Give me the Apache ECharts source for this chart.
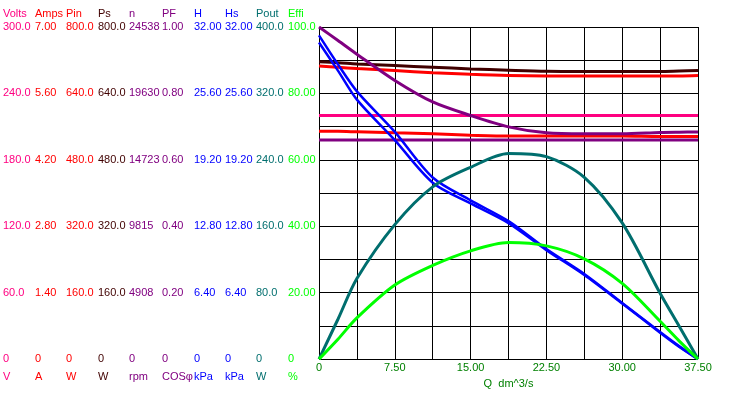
<!DOCTYPE html>
<html>
<head>
<meta charset="utf-8">
<script src="https://cdn.jsdelivr.net/npm/echarts@6/dist/echarts.min.js"></script>
<style>
html,body{margin:0;padding:0;background:#fff;}
#chart{width:730px;height:394px;}
</style>
</head>
<body>
<div id="chart"></div>
<script>
// ---- data ----
const flow = [0, 1.875, 3.75, 7.5, 11.25, 15, 18.75, 22.5, 26.25, 30, 33.75, 35.625, 37.5];
const volts = [220, 220, 220, 220, 220, 220, 220, 220, 220, 220, 220, 220, 220];
const amps = [4.80, 4.80, 4.79, 4.77, 4.75, 4.72, 4.70, 4.70, 4.70, 4.70, 4.69, 4.69, 4.69];
const pin = [706, 703, 700, 695, 690, 686, 683, 682, 682, 682, 682, 682, 683];
const ps = [716, 714, 711, 707, 703, 699, 696, 693.5, 693, 693, 693, 694, 695];
const speed = [24538, 23540, 22530, 20590, 19000, 18000, 17160, 16720, 16650, 16650, 16750, 16770, 16780];
const pf = [0.66, 0.66, 0.66, 0.66, 0.66, 0.66, 0.66, 0.66, 0.66, 0.66, 0.66, 0.66, 0.66];
const head = [31.2, 28.4, 25.8, 21.9, 17.5, 15.3, 13.3, 10.6, 8.2, 5.4, 2.6, 1.25, 0];
const headS = [30.5, 27.8, 25.0, 21.1, 17.0, 15.0, 13.1, 10.5, 8.1, 5.35, 2.55, 1.2, 0];
const pout = [0, 48, 97, 162, 207.5, 231, 247.7, 243.8, 219, 164, 79.3, 39.8, 0];
const effi = [0, 6.0, 12.4, 22.3, 28.2, 32.6, 35.1, 34.1, 30.2, 22.8, 11.4, 5.5, 0];

const axisNames = ['Volts', 'Amps', 'Pin', 'Ps', 'n', 'PF', 'H', 'Hs', 'Pout', 'Effi'];
const axisUnits = ['V', 'A', 'W', 'W', 'rpm', 'COSφ', 'kPa', 'kPa', 'W', '%'];
const axisMax = [300, 7, 800, 800, 24538, 1, 32, 32, 400, 100];
const axisDecimals = [1, 2, 1, 1, 0, 2, 2, 2, 1, 2];
const xMax = 37.5;
const xStep = 3.75;
const xName = 'Q  dm^3/s';

// ---- styling ----
const colors = ['#FF0080', '#FF0000', '#FF0000', '#400000', '#800080', '#800080', '#0000FF', '#0000FF', '#006E6E', '#00FF00'];
const colX = [3, 35, 66, 98, 129, 162, 194, 225, 256, 288];
const FONT = "'Liberation Sans', Arial, sans-serif";
const GL = 319, GT = 27, GW = 379, GH = 338;

const seriesData = [volts, amps, pin, ps, speed, pf, head, headS, pout, effi];

// grid-lines axis first
const yAxes = [{
  type: 'value', position: 'left', offset: 0, min: 0, max: 10, interval: 1,
  axisLine: { show: false }, axisTick: { show: false }, axisLabel: { show: false },
  splitLine: { show: true, lineStyle: { color: '#000', width: 1 } }
}];
axisNames.forEach((nm, i) => yAxes.push({
  type: 'value',
  position: 'left',
  offset: GL - colX[i],
  min: 0,
  max: axisMax[i],
  interval: axisMax[i] / 5,
  name: nm,
  nameLocation: 'end',
  nameGap: 13,
  nameMoveOverlap: false,
  nameTextStyle: { color: colors[i], fontSize: 11, fontFamily: FONT, align: 'left', verticalAlign: 'middle' },
  axisLine: { show: false },
  axisTick: { show: false },
  splitLine: { show: false },
  axisLabel: {
    color: colors[i], fontSize: 11, fontFamily: FONT, align: 'left', margin: 0,
    formatter: v => (Math.abs(v) < 1e-9 ? '0' : v.toFixed(axisDecimals[i]).slice(0, 5))
  }
}));

const series = seriesData.map((arr, i) => ({
  type: 'line',
  yAxisIndex: i + 1,
  data: flow.map((q, k) => [q, arr[k]]),
  showSymbol: false,
  smooth: 0.3,
  lineStyle: { color: colors[i], width: (i === 6 || i === 7) ? 2.5 : 3 },
  itemStyle: { color: colors[i] },
  z: 3
}));

// unit captions under each left scale
const unitTexts = axisUnits.map((u, i) => ({
  type: 'text',
  left: colX[i],
  top: GT + GH + 6,
  style: { text: u, fill: colors[i], font: '11px ' + FONT }
}));

const chart = echarts.init(document.getElementById('chart'), null, { renderer: 'canvas' });
chart.setOption({
  animation: false,
  backgroundColor: '#fff',
  grid: { left: GL, top: GT, width: GW, height: GH, containLabel: false },
  graphic: unitTexts,
  xAxis: {
    type: 'value', min: 0, max: xMax, interval: xStep,
    name: xName, nameLocation: 'middle', nameGap: 17,
    nameTextStyle: { color: '#008000', fontSize: 11, fontFamily: FONT, verticalAlign: 'middle' },
    axisLine: { show: false }, axisTick: { show: false },
    splitLine: { show: true, lineStyle: { color: '#000', width: 1 } },
    axisLabel: {
      color: '#008000', fontSize: 11, fontFamily: FONT, margin: 3,
      formatter: v => {
        const k = Math.round(v / xStep);
        if (k % 2 !== 0) return '';
        return k === 0 ? '0' : v.toFixed(2);
      }
    }
  },
  yAxis: yAxes,
  series: series
});
</script>
</body>
</html>
